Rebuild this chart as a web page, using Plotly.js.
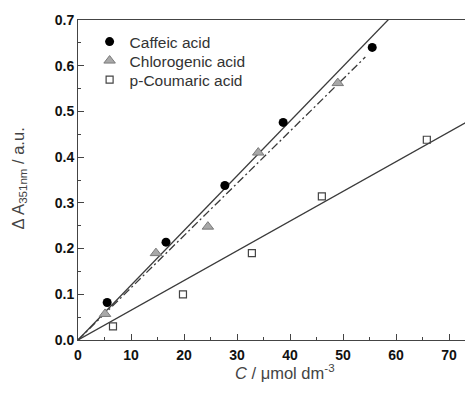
<!DOCTYPE html>
<html>
<head>
<meta charset="utf-8">
<script src="https://cdn.plot.ly/plotly-3.0.1.min.js"></script>
<style>html,body{margin:0;padding:0;background:#fff;}#chart{width:465px;height:394px;}</style>
</head>
<body>
<div id="chart"></div>
<script>
// Data
const caffeicX = [5.5, 16.6, 27.7, 38.7, 55.5];
const caffeicY = [0.082, 0.214, 0.338, 0.476, 0.640];
const chlorogenicX = [5.1, 14.7, 24.5, 34.0, 49.0];
const chlorogenicY = [0.057, 0.190, 0.248, 0.410, 0.562];
const coumaricX = [6.6, 19.8, 32.8, 46.0, 65.8];
const coumaricY = [0.030, 0.100, 0.190, 0.314, 0.438];
// Linear fits through origin: slope and end of drawn segment (x)
const fitSlopes = [0.01197, 0.01142, 0.0065];
const fitEndX = [80, 54.2, 80];
const seriesNames = ['Caffeic acid', 'Chlorogenic acid', 'p-Coumaric acid'];

const lineColor = '#3a3a3a';
function fitTrace(i, dash) {
  return {
    x: [0, fitEndX[i]], y: [0, fitSlopes[i] * fitEndX[i]],
    mode: 'lines', line: {color: lineColor, width: 1.3, dash: dash},
    showlegend: false, hoverinfo: 'skip'
  };
}

const traces = [
  fitTrace(0, 'solid'),
  fitTrace(1, '8px,3px,2px,3px'),
  fitTrace(2, 'solid'),
  {x: caffeicX, y: caffeicY, mode: 'markers', name: seriesNames[0], legend: 'legend',
   marker: {symbol: 'circle', size: 9, color: '#000', line: {width: 0}}},
  {x: chlorogenicX, y: chlorogenicY, mode: 'markers', name: seriesNames[1], legend: 'legend2',
   marker: {symbol: 'triangle-up', size: 10, color: '#a8a8a8', line: {width: 1, color: '#7a7a7a'}}},
  {x: coumaricX, y: coumaricY, mode: 'markers', name: seriesNames[2], legend: 'legend3',
   marker: {symbol: 'square-open', size: 7, color: '#444', line: {width: 1.2, color: '#444'}}}
];

const legFont = {family: 'Liberation Sans, Arial, sans-serif', size: 15.5, color: '#333'};
function leg(yc) {
  return {x: 0.03, y: yc, xanchor: 'left', yanchor: 'middle', bgcolor: 'rgba(0,0,0,0)',
          font: legFont, itemwidth: 30, borderwidth: 0};
}
const tickFont = {family: 'Liberation Sans, Arial, sans-serif', size: 14, color: '#111', weight: 'bold'};
const plotTop = 20, plotH = 320;
const layout = {
  width: 465, height: 394,
  margin: {l: 78, r: 0, t: plotTop, b: 54},
  paper_bgcolor: '#fff', plot_bgcolor: '#fff',
  showlegend: true,
  legend: leg(1 - (42 - plotTop) / plotH),
  legend2: leg(1 - (61 - plotTop) / plotH),
  legend3: leg(1 - (80 - plotTop) / plotH),
  xaxis: {range: [0, 73], dtick: 10, tick0: 0, ticks: 'inside', ticklen: 6, tickwidth: 1, tickcolor: '#444',
          minor: {dtick: 5, ticks: 'inside', ticklen: 3, tickwidth: 1, tickcolor: '#444'},
          showgrid: false, zeroline: false, showline: true, linecolor: '#444', linewidth: 1, mirror: true,
          tickfont: tickFont, ticklabelstandoff: 2},
  yaxis: {range: [0, 0.7], dtick: 0.1, tick0: 0, tickformat: '.1f', ticks: 'inside', ticklen: 6, tickwidth: 1, tickcolor: '#444',
          minor: {dtick: 0.05, ticks: 'inside', ticklen: 3, tickwidth: 1, tickcolor: '#444'},
          showgrid: false, zeroline: false, showline: true, linecolor: '#444', linewidth: 1,
          tickfont: tickFont},
  annotations: [
    {text: 'Δ A<sub>351nm</sub> / a.u.', xref: 'paper', yref: 'paper', x: -0.152, y: 0.505,
     xanchor: 'center', yanchor: 'middle', textangle: -90, showarrow: false,
     font: {family: 'Liberation Sans, Arial, sans-serif', size: 16.5, color: '#444'}},
    {text: '<i>C</i> / μmol dm<sup>-3</sup>', xref: 'paper', yref: 'paper', x: 0.535, y: -0.064,
     xanchor: 'center', yanchor: 'top', showarrow: false,
     font: {family: 'Liberation Sans, Arial, sans-serif', size: 16.5, color: '#444'}}
  ]
};
Plotly.newPlot('chart', traces, layout, {displayModeBar: false, staticPlot: true});
</script>
</body>
</html>
